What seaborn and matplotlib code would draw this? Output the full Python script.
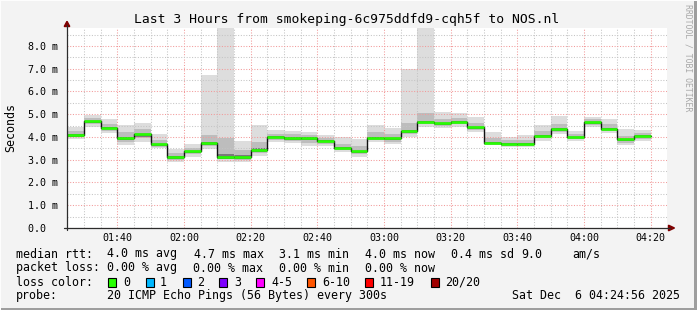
import numpy as np
import pandas as pd
import matplotlib
matplotlib.use("Agg")
import matplotlib.pyplot as plt
import seaborn as sns
from matplotlib.lines import Line2D
from matplotlib.patches import Rectangle, Polygon

# ---------------- data ----------------
bin_start = ["01:25", "01:30", "01:35", "01:40", "01:45", "01:50", "01:55",
             "02:00", "02:05", "02:10", "02:15", "02:20", "02:25", "02:30",
             "02:35", "02:40", "02:45", "02:50", "02:55", "03:00", "03:05",
             "03:10", "03:15", "03:20", "03:25", "03:30", "03:35", "03:40",
             "03:45", "03:50", "03:55", "04:00", "04:05", "04:10", "04:15"]
median_ms = [4.09, 4.70, 4.41, 3.97, 4.13, 3.69, 3.13, 3.38, 3.74, 3.13, 3.13,
             3.45, 4.01, 3.96, 3.96, 3.83, 3.52, 3.37, 3.97, 3.94, 4.27, 4.66,
             4.60, 4.68, 4.44, 3.73, 3.69, 3.69, 4.06, 4.36, 4.00, 4.64, 4.36,
             3.89, 4.06]
smoke_min = [3.91, 4.45, 4.16, 3.65, 3.80, 3.50, 2.89, 3.11, 3.47, 2.92, 2.92,
             3.18, 3.79, 3.72, 3.62, 3.60, 3.33, 3.13, 3.79, 3.69, 4.01, 4.45,
             4.38, 4.45, 4.20, 3.65, 3.57, 3.57, 3.84, 4.12, 3.84, 4.45, 4.16,
             3.65, 3.84]
smoke_max = [4.43, 4.97, 4.79, 4.53, 4.60, 4.13, 3.46, 3.69, 6.72, 9.50, 3.82,
             4.53, 4.31, 4.26, 4.23, 4.09, 3.99, 3.90, 4.53, 4.38, 6.99, 9.50,
             5.11, 5.04, 4.89, 4.23, 4.01, 4.09, 4.53, 4.94, 4.26, 4.89, 4.79,
             4.35, 4.31]
mid_lo = [3.98, 4.58, 4.28, 3.80, 3.95, 3.58, 2.98, 3.25, 3.60, 3.02, 3.00,
          3.30, 3.88, 3.82, 3.75, 3.70, 3.42, 3.25, 3.88, 3.80, 4.12, 4.55,
          4.48, 4.56, 4.30, 3.68, 3.62, 3.62, 3.95, 4.22, 3.92, 4.53, 4.25,
          3.75, 3.92]
mid_hi = [4.25, 4.85, 4.55, 4.20, 4.35, 3.85, 3.28, 3.52, 4.10, 3.95, 3.45,
          3.80, 4.15, 4.12, 4.10, 3.96, 3.70, 3.60, 4.20, 4.15, 4.60, 5.05,
          4.80, 4.85, 4.62, 3.95, 3.85, 3.88, 4.25, 4.55, 4.12, 4.78, 4.55,
          4.05, 4.18]
core_lo = [4.02, 4.63, 4.33, 3.85, 4.02, 3.62, 3.03, 3.30, 3.66, 3.05, 3.05,
           3.36, 3.94, 3.88, 3.86, 3.76, 3.46, 3.30, 3.92, 3.86, 4.18, 4.60,
           4.53, 4.62, 4.36, 3.69, 3.64, 3.64, 4.00, 4.28, 3.95, 4.58, 4.30,
           3.82, 3.98]
core_hi = [4.12, 4.72, 4.43, 3.99, 4.15, 3.71, 3.15, 3.40, 3.80, 3.25, 3.20,
           3.50, 4.04, 3.98, 3.98, 3.86, 3.55, 3.40, 4.00, 3.97, 4.30, 4.72,
           4.62, 4.70, 4.46, 3.76, 3.72, 3.72, 4.08, 4.38, 4.02, 4.66, 4.38,
           3.91, 4.08]

y_ticks = [0, 1, 2, 3, 4, 5, 6, 7, 8]
y_tick_labels = ["0.0  ", "1.0 m", "2.0 m", "3.0 m", "4.0 m", "5.0 m",
                 "6.0 m", "7.0 m", "8.0 m"]
x_tick_labels = ["01:40", "02:00", "02:20", "02:40", "03:00", "03:20",
                 "03:40", "04:00", "04:20"]

title = "Last 3 Hours from smokeping-6c975ddfd9-cqh5f to NOS.nl"
rtt_items = ["4.0 ms avg", "4.7 ms max", "3.1 ms min", "4.0 ms now",
             "0.4 ms sd", "9.0", "am/s"]
loss_items = ["0.00 % avg", "0.00 % max", "0.00 % min", "0.00 % now"]
loss_labels = ["0", "1", "2", "3", "4-5", "6-10", "11-19", "20/20"]
loss_colors = ["#26ff00", "#00b8ff", "#0059ff", "#7e00ff", "#ff00ff",
               "#ff5500", "#ff0000", "#a10000"]
probe_text = "20 ICMP Echo Pings (56 Bytes) every 300s"
date_text = "Sat Dec  6 04:24:56 2025"

# ---------------- figure ----------------
sns.set_theme(style="white")
plt.rcParams['font.family'] = ['DejaVu Sans Mono', 'DejaVu Sans']
plt.rcParams['axes.linewidth'] = 0.8

W, H = 697, 310
BG = '#f3f3f3'
fig = plt.figure(figsize=(W / 100, H / 100), dpi=100, facecolor=BG)
ax = fig.add_axes([67 / W, 82 / H, 600 / W, 200 / H])
ax.set_facecolor('white')


def tmin(s):
    h, m = s.split(':')
    return int(h) * 60 + int(m)


starts = np.array([tmin(s) for s in bin_start], dtype=float)
ends = starts + 5
xs = np.append(starts, ends[-1])


def ext(a):
    a = np.asarray(a, dtype=float)
    return np.append(a, a[-1])


ax.fill_between(xs, ext(smoke_min), ext(smoke_max), step='post',
                color='#dddddd', lw=0, zorder=1)
ax.fill_between(xs, ext(mid_lo), ext(mid_hi), step='post',
                color='#bdbdbd', lw=0, zorder=1.2)
ax.fill_between(xs, ext(core_lo), ext(core_hi), step='post',
                color='#7a7a7a', lw=0, zorder=1.4)

df = pd.DataFrame({'t': xs, 'median': ext(median_ms)})
sns.lineplot(data=df, x='t', y='median', drawstyle='steps-post',
             color='#111111', lw=1.0, ax=ax, zorder=4, estimator=None,
             sort=False)
ax.hlines(median_ms, starts, ends, colors=loss_colors[0], lw=1.9, zorder=5)

x0 = tmin("01:24") + 56 / 60
ax.set_xlim(x0, x0 + 180)
ax.set_ylim(0, 8.79)

major_x = [tmin(s) for s in x_tick_labels]
minor_x = [t for t in np.arange(90, 265, 5) if t not in major_x]
ax.set_xticks(major_x)
ax.set_xticklabels(x_tick_labels)
ax.set_xticks(minor_x, minor=True)
ax.set_yticks(y_ticks)
ax.set_yticklabels(y_tick_labels)
ax.set_yticks(np.arange(0.5, 8.6, 1.0), minor=True)

ax.set_axisbelow(False)
ax.grid(which='minor', color='#c4c4c4', lw=0.75, linestyle=(0, (1, 1.6)))
ax.grid(which='major', color='#f29a9a', lw=0.75, linestyle=(0, (1, 1.6)))

ax.tick_params(axis='both', which='major', labelsize=7.2, colors='#000000',
               length=2.9, width=0.7, direction='out')
ax.tick_params(axis='y', which='major', pad=3.4)
ax.tick_params(axis='x', which='major', pad=0.6)
ax.tick_params(axis='x', which='minor', length=2.0, width=0.7,
               direction='out', colors='#333333')
ax.tick_params(axis='y', which='minor', length=0)
for lab in ax.get_xticklabels() + ax.get_yticklabels():
    lab.set_fontfamily(['DejaVu Sans Mono'])
for sp in ax.spines.values():
    sp.set_visible(False)
ax.set_xlabel('')
ax.set_ylabel('')


def P(x, y):
    return (x / W, 1 - y / H)


# axis lines with arrows
axis_col = '#2c2c2c'
arrow_col = '#7f0000'
fig.add_artist(Line2D([67 / W, 67 / W], [1 - 230 / H, 1 - 25 / H],
                      color=axis_col, lw=0.9))
fig.add_artist(Line2D([64 / W, 670 / W], [1 - 228 / H, 1 - 228 / H],
                      color=axis_col, lw=0.9))
fig.add_artist(Polygon([P(64.2, 26.5), P(69.8, 26.5), P(67, 21.3)],
                       closed=True, color=arrow_col, transform=fig.transFigure))
fig.add_artist(Polygon([P(668.5, 225.2), P(668.5, 230.8), P(674.5, 228)],
                       closed=True, color=arrow_col, transform=fig.transFigure))

# frame shading
fig.add_artist(Rectangle((0, 0), 1, 2 / H, transform=fig.transFigure,
                         color='#9e9e9e', lw=0))
fig.add_artist(Rectangle((1 - 3 / W, 0), 3 / W, 1, transform=fig.transFigure,
                         color='#9e9e9e', lw=0))
fig.add_artist(Rectangle((0, 1 - 1 / H), 1, 1 / H, transform=fig.transFigure,
                         color='#fdfdfd', lw=0))
fig.add_artist(Rectangle((0, 0), 1 / W, 1, transform=fig.transFigure,
                         color='#fdfdfd', lw=0))

# texts
fig.text(*P(347, 19), title, ha='center', va='center', fontsize=9.35,
         color='#000000')
fig.text(*P(11, 128), "Seconds", ha='center', va='center', rotation=90,
         fontsize=8.4, color='#000000')
fig.text(*P(688, 58), "RRDTOOL / TOBI OETIKER", ha='center', va='center',
         rotation=-90, fontsize=5.85, color='#a8a8a8')

LF = 8.37


def lt(x, y, s, **kw):
    fig.text(*P(x, y), s, ha=kw.pop('ha', 'left'), va='center', fontsize=LF,
             color='#000000', **kw)


lt(16, 254, "median rtt:")
for x, s in zip([107, 194, 279, 365, 451, 521, 572], rtt_items):
    lt(x, 254, s)
lt(16, 268, "packet loss:")
for x, s in zip([107, 193, 279, 365], loss_items):
    lt(x, 268, s)
lt(16, 282, "loss color:")
box_x = [108, 146, 183, 219, 256, 307, 365, 431]
lab_x = [123, 160, 197, 234, 271, 322, 380, 445]
for bx, lx, s, c in zip(box_x, lab_x, loss_labels, loss_colors):
    fig.add_artist(Rectangle((bx / W, 1 - 286.5 / H), 8 / W, 8.5 / H,
                             transform=fig.transFigure, facecolor=c,
                             edgecolor='#000000', lw=0.8))
    lt(lx, 282, s)
lt(16, 295.5, "probe:")
lt(107, 295.5, probe_text)
lt(680, 295.5, date_text, ha='right')

fig.savefig("out.png", dpi=100, facecolor=BG)
